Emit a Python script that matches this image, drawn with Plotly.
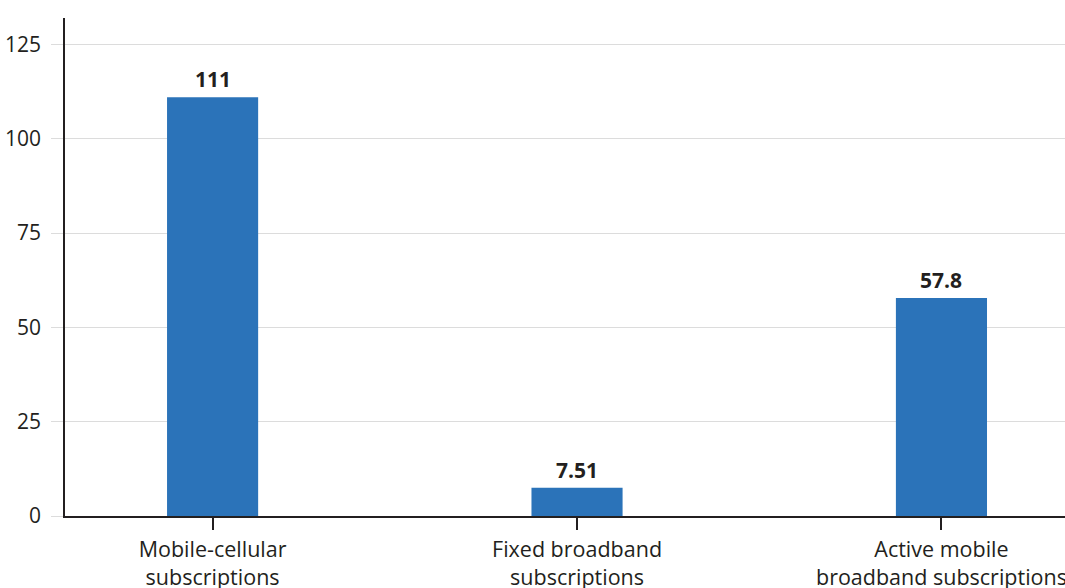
import plotly.graph_objects as go

# Subscriptions per 100 inhabitants
categories = ["Mobile-cellular<br>subscriptions",
              "Fixed broadband<br>subscriptions",
              "Active mobile<br>broadband subscriptions"]
values = [111, 7.51, 57.8]
value_labels = ["111", "7.51", "57.8"]
y_ticks = [0, 25, 50, 75, 100, 125]

BAR_COLOR = "#2B73B9"
TEXT_COLOR = "#231F20"
GRID_COLOR = "#DCDCDC"
FONT = "Open Sans"

fig = go.Figure()
fig.add_trace(go.Bar(
    x=list(range(len(categories))),
    y=values,
    width=0.25,
    marker=dict(color=BAR_COLOR, line=dict(width=0)),
    hoverinfo="skip",
))

for i, (v, lab) in enumerate(zip(values, value_labels)):
    fig.add_annotation(
        x=i, y=v, text=f"<b>{lab}</b>", showarrow=False,
        yanchor="bottom", yshift=2,
        font=dict(family=FONT, size=21, color=TEXT_COLOR),
    )

fig.update_layout(
    width=1065, height=588,
    margin=dict(l=65, r=0, t=18, b=72),
    paper_bgcolor="white", plot_bgcolor="white",
    showlegend=False,
    font=dict(family=FONT, color=TEXT_COLOR),
    xaxis=dict(
        tickmode="array",
        tickvals=list(range(len(categories))),
        ticktext=categories,
        range=[-0.405, 2.339],
        automargin=False,
        showgrid=False, zeroline=False,
        showline=True, linecolor=TEXT_COLOR, linewidth=1.5,
        ticks="outside", ticklen=12, tickcolor=TEXT_COLOR, tickwidth=1.5,
        ticklabeloverflow="allow", ticklabelstandoff=1,
        tickfont=dict(family=FONT, size=21.5, color=TEXT_COLOR),
    ),
    yaxis=dict(
        range=[0, 132],
        tickvals=y_ticks,
        automargin=False,
        showgrid=True, gridcolor=GRID_COLOR, gridwidth=1.2,
        zeroline=False,
        showline=True, linecolor=TEXT_COLOR, linewidth=1.5,
        ticks="outside", ticklen=12, tickcolor=GRID_COLOR, tickwidth=1.2,
        ticklabelstandoff=6,
        tickfont=dict(family=FONT, size=21, color=TEXT_COLOR),
    ),
)

fig.write_html("out.html")
